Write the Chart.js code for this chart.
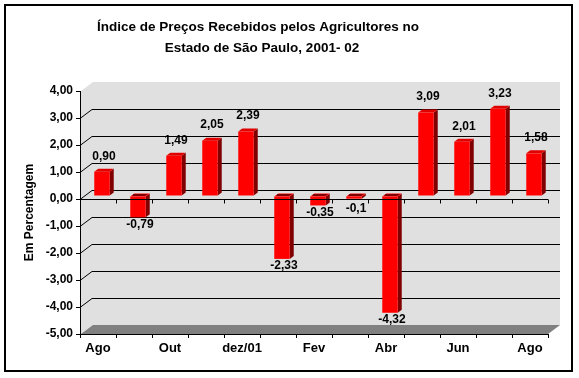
<!DOCTYPE html>
<html>
<head>
<meta charset="utf-8">
<script src="https://cdn.jsdelivr.net/npm/chart.js@4.4.0/dist/chart.umd.min.js"></script>
<style>
  html, body { margin: 0; padding: 0; background: #fff; }
  canvas { display: block; }
</style>
</head>
<body>
<canvas id="chart" width="579" height="378"></canvas>
<script>
// Data
const categories = ['Ago', 'Set', 'Out', 'Nov', 'dez/01', 'Jan', 'Fev', 'Mar', 'Abr', 'Mai', 'Jun', 'Jul', 'Ago'];
const values = [0.90, -0.79, 1.49, 2.05, 2.39, -2.33, -0.35, -0.1, -4.32, 3.09, 2.01, 3.23, 1.58];
const valueLabels = ['0,90', '-0,79', '1,49', '2,05', '2,39', '-2,33', '-0,35', '-0,1', '-4,32', '3,09', '2,01', '3,23', '1,58'];
const titleLines = ['Índice de Preços Recebidos pelos Agricultores no', 'Estado de São Paulo, 2001- 02'];
const yAxisTitle = 'Em Percentagem';
const yMin = -5;
const yMax = 4;

const FONT = '"Liberation Sans", Arial, sans-serif';

// 3D look: wall depth, bar offset and bar depth
const WALL = { dx: 12, dy: -9 };
const BAR_SHIFT = { dx: 4, dy: -3 };
const BAR_DEPTH = { dx: 4, dy: -3 };

function poly(ctx, pts, fill) {
    ctx.beginPath();
    ctx.moveTo(pts[0][0], pts[0][1]);
    for (let i = 1; i < pts.length; i++) ctx.lineTo(pts[i][0], pts[i][1]);
    ctx.closePath();
    ctx.fillStyle = fill;
    ctx.fill();
}

const frame3d = {
    id: 'frame3d',
    beforeDraw(chart) {
        const ctx = chart.ctx;
        const { left: L, right: R, top: T, bottom: B } = chart.chartArea;
        const y = chart.scales.y;

        ctx.save();
        ctx.fillStyle = '#fff';
        ctx.fillRect(0, 0, chart.width, chart.height);

        // outer frame
        ctx.strokeStyle = '#000';
        ctx.lineWidth = 2;
        ctx.strokeRect(5, 5, 567, 366);

        // title
        ctx.fillStyle = '#000';
        ctx.font = 'bold 13.5px ' + FONT;
        ctx.textAlign = 'center';
        ctx.textBaseline = 'middle';
        ctx.fillText(titleLines[0], 258, 27);
        ctx.fillText(titleLines[1], 262, 48);

        // walls
        poly(ctx, [[L + 1, T], [L + 1 + WALL.dx, T + WALL.dy], [R + WALL.dx, T + WALL.dy],
                   [R + WALL.dx, B + WALL.dy], [R, B], [L + 1, B]], '#E0E0E0');
        // floor
        poly(ctx, [[L + 1, B], [L + 1 + WALL.dx, B + WALL.dy], [R + WALL.dx, B + WALL.dy], [R, B]], '#808080');

        // gridlines on the back wall
        ctx.strokeStyle = '#000';
        ctx.lineWidth = 1;
        for (let v = yMin + 1; v < yMax; v++) {
            const py = Math.round(y.getPixelForValue(v)) + 0.5;
            ctx.beginPath();
            ctx.moveTo(L, py);
            ctx.lineTo(L + WALL.dx, py + WALL.dy);
            ctx.lineTo(R + WALL.dx, py + WALL.dy);
            ctx.stroke();
        }
        ctx.restore();
    },
    beforeDatasetsDraw(chart) {
        const ctx = chart.ctx;
        const meta = chart.getDatasetMeta(0);
        ctx.save();
        ctx.translate(BAR_SHIFT.dx, BAR_SHIFT.dy);
        meta.data.forEach((bar, i) => {
            const l = bar.x - bar.width / 2;
            const r = bar.x + bar.width / 2;
            const top = Math.min(bar.y, bar.base);
            const bot = Math.max(bar.y, bar.base);
            // side
            poly(ctx, [[r, top], [r + BAR_DEPTH.dx, top + BAR_DEPTH.dy],
                       [r + BAR_DEPTH.dx, bot + BAR_DEPTH.dy], [r, bot]], '#800000');
            // top
            const topPts = [[l, top], [l + BAR_DEPTH.dx, top + BAR_DEPTH.dy],
                            [r + BAR_DEPTH.dx, top + BAR_DEPTH.dy], [r, top]];
            if (values[i] >= 0) {
                poly(ctx, topPts, '#E00000');
            } else {
                poly(ctx, topPts, '#FF0000');
                poly(ctx, [[l + 2, top - 1], [l + 3, top - 2],
                           [r + BAR_DEPTH.dx - 2, top - 2], [r - 1, top - 1]], '#000');
            }
        });
        // bars (front faces) are drawn by Chart.js in this shifted frame
    },
    afterDatasetsDraw(chart) {
        const ctx = chart.ctx;
        ctx.restore();

        const { left: L, right: R } = chart.chartArea;
        const y = chart.scales.y;
        const y0 = Math.round(y.getPixelForValue(0)) + 0.5;

        ctx.save();
        // category axis line at zero, with tick marks
        ctx.strokeStyle = '#000';
        ctx.lineWidth = 1;
        ctx.beginPath();
        ctx.moveTo(L, y0);
        ctx.lineTo(R, y0);
        const step = (R - L) / categories.length;
        for (let i = 0; i <= categories.length; i++) {
            const px = Math.round(L + i * step) + 0.5;
            ctx.moveTo(px, y0);
            ctx.lineTo(px, y0 + 4);
        }
        ctx.stroke();

        // value labels
        const meta = chart.getDatasetMeta(0);
        ctx.fillStyle = '#000';
        ctx.font = 'bold 12px ' + FONT;
        ctx.textAlign = 'center';
        ctx.textBaseline = 'middle';
        meta.data.forEach((bar, i) => {
            const cx = bar.x + BAR_SHIFT.dx + BAR_DEPTH.dx / 2;
            let cy;
            if (values[i] >= 0) {
                cy = bar.y + BAR_SHIFT.dy + BAR_DEPTH.dy - 12.5;
            } else {
                // keep small negative labels clear of the zero line
                cy = Math.max(bar.y + BAR_SHIFT.dy + 7, y0 + 9);
            }
            ctx.fillText(valueLabels[i], cx, cy);
        });
        ctx.restore();
    }
};

new Chart(document.getElementById('chart'), {
    type: 'bar',
    data: {
        labels: categories,
        datasets: [{
            data: values,
            backgroundColor: '#FF0000',
            borderWidth: 0,
            categoryPercentage: 1,
            barPercentage: 0.43
        }]
    },
    options: {
        responsive: false,
        animation: false,
        devicePixelRatio: 1,
        layout: { padding: { left: 0, right: 31, top: 91, bottom: 0 } },
        plugins: {
            legend: { display: false },
            tooltip: { enabled: false },
            title: { display: false }
        },
        scales: {
            x: {
                grid: { offset: true, drawOnChartArea: false, drawTicks: true, tickLength: 4, color: '#000' },
                border: { display: true, color: '#000' },
                ticks: {
                    autoSkip: false,
                    maxRotation: 0,
                    padding: 3,
                    color: '#000',
                    font: { family: FONT, size: 13, weight: 'bold' },
                    callback: (v, i) => (i % 2 === 0 ? categories[i] : '')
                },
                afterFit: s => { s.height = 44; s.paddingLeft = 0; s.paddingRight = 0; }
            },
            y: {
                min: yMin,
                max: yMax,
                grid: { drawOnChartArea: false, drawTicks: true, tickLength: 4, color: '#000' },
                border: { display: true, color: '#000' },
                ticks: {
                    stepSize: 1,
                    padding: 3,
                    color: '#000',
                    font: { family: FONT, size: 12, weight: 'bold' },
                    callback: v => v.toFixed(2).replace('.', ',')
                },
                title: {
                    display: true,
                    text: yAxisTitle,
                    color: '#000',
                    font: { family: FONT, size: 12, weight: 'bold' },
                    padding: { top: 22, bottom: 0 }
                },
                afterFit: s => { s.width = 80; s.paddingTop = 0; s.paddingBottom = 0; }
            }
        }
    },
    plugins: [frame3d]
});
</script>
</body>
</html>
